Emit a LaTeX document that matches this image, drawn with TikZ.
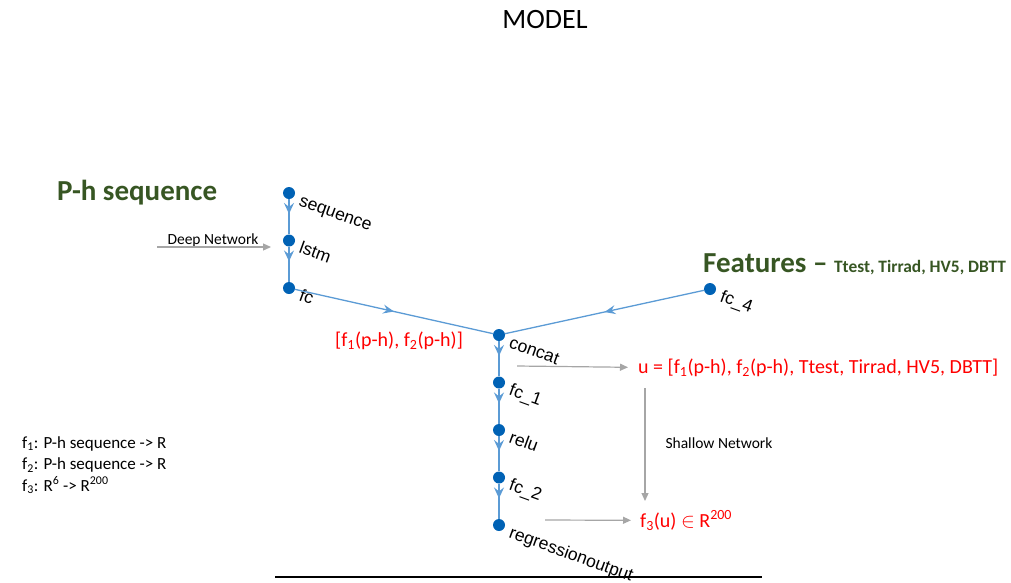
\documentclass[tikz,border=0pt]{standalone}
\usepackage{fontspec}
\setmainfont{Carlito}
\newfontfamily\arialfont{Liberation Sans}
\usetikzlibrary{arrows.meta,decorations.markings,calc}
\definecolor{dotblue}{RGB}{0,98,181}
\definecolor{edgeblue}{RGB}{91,155,213}
\definecolor{darkgreen}{RGB}{55,86,35}
\definecolor{arrowgray}{RGB}{166,166,166}

\begin{document}
\begin{tikzpicture}[x=1pt, y=-1pt, node distance={47.5pt},
    layer/.style = {circle, fill=dotblue, inner sep=0pt, minimum size=12pt},
    lbl/.style = {font=\arialfont\fontsize{17.5}{20}\selectfont, rotate=-20, anchor=base west, inner sep=0pt},
    flow/.style = {draw=edgeblue, line width=2.2pt, postaction={decorate},
        decoration={markings, mark=at position #1 with {\arrow[edgeblue]{Stealth[length=11pt,width=10pt,inset=4pt]}}}},
    flowthin/.style = {draw=edgeblue, line width=1.3pt, postaction={decorate},
        decoration={markings, mark=at position #1 with {\arrow[edgeblue]{Stealth[length=11pt,width=9pt,inset=4pt]}}}},
    grayarrow/.style = {draw=arrowgray, line width=1.2pt, -{Triangle[length=8pt,width=7pt]}},
    redtxt/.style = {text=red, font=\fontsize{20}{24}\selectfont, inner sep=0pt, anchor=base west},
    note/.style = {font=\fontsize{15.5}{18}\selectfont, inner sep=0pt},
    defn/.style = {font=\fontsize{17}{20}\selectfont, inner sep=0pt, anchor=base west},
    heading/.style = {text=darkgreen, font=\bfseries\fontsize{29}{34}\selectfont, inner sep=0pt, anchor=base west}]
    \useasboundingbox (0,0) rectangle (1011,582);

    % title
    \node[font=\fontsize{28}{32}\selectfont, inner sep=0pt, anchor=base] (title) at (545,28) {MODEL};

    % deep branch
    \node[layer] (seq) at (289,193) {};
    \node[layer] (lstm) [below of=seq] {};
    \node[layer] (fc) [below of=lstm] {};
    % shallow branch
    \node[layer] (concat) at (499,335) {};
    \node[layer] (fcone) [below of=concat] {};
    \node[layer] (relu) [below of=fcone] {};
    \node[layer] (fctwo) [below of=relu] {};
    \node[layer] (regout) [below of=fctwo] {};
    \node[layer] (fcfour) at (710,289) {};

    \node[lbl] (seqtxt) at ($(seq)+(9pt,-12pt)$) {sequence};
    \node[lbl] (lstmtxt) at ($(lstm)+(9pt,-12pt)$) {lstm};
    \node[lbl] (fctxt) at ($(fc)+(9pt,-12pt)$) {fc};
    \node[lbl] (concattxt) at ($(concat)+(9pt,-12pt)$) {concat};
    \node[lbl] (fconetxt) at ($(fcone)+(9pt,-12pt)$) {fc\_1};
    \node[lbl] (relutxt) at ($(relu)+(9pt,-12pt)$) {relu};
    \node[lbl] (fctwotxt) at ($(fctwo)+(9pt,-12pt)$) {fc\_2};
    \node[lbl] (regouttxt) at ($(regout)+(9pt,-12pt)$) {regressionoutput};
    \node[lbl] (fcfourtxt) at ($(fcfour)+(9pt,-12pt)$) {fc\_4};

    \draw[flow=0.42] (seq) to (lstm);
    \draw[flow=0.42] (lstm) to (fc);
    \draw[flowthin=0.5] (fc) to (concat);
    \draw[flowthin=0.5] (fcfour) to (concat);
    \draw[flow=0.42] (concat) to (fcone);
    \draw[flow=0.42] (fcone) to (relu);
    \draw[flow=0.42] (relu) to (fctwo);
    \draw[flow=0.42] (fctwo) to (regout);

    % headings
    \node[heading] (phseq) at (57,200) {P-h sequence};
    \node[heading] (feat) at (703,272) {Features – {\fontsize{17.4}{20}\selectfont Ttest, Tirrad, HV5, DBTT}};

    % deep network input
    \node[note] (deepnet) at (213,240) {Deep Network};
    \coordinate (deepin) at (157,247);
    \coordinate (deepout) at (271,247);
    \draw[grayarrow] (deepin) -- (deepout);

    % red outputs
    \node[redtxt] (fvec) at (335,346) {[f\textsubscript{1}(p-h), f\textsubscript{2}(p-h)]};
    \node[redtxt] (uvec) at (638,373) {u = [f\textsubscript{1}(p-h), f\textsubscript{2}(p-h), Ttest, Tirrad, HV5, DBTT]};
    \node[redtxt] (fthree) at (640,527) {f\textsubscript{3}(u) $\in$ R\textsuperscript{200}};

    \coordinate (concatout) at (517,366);
    \draw[grayarrow] (concatout) -- ([xshift=-10pt]uvec.west);
    \coordinate (shallowin) at (645,388);
    \coordinate (shallowout) at (645,501);
    \draw[grayarrow] (shallowin) -- (shallowout);
    \node[note] (shallownet) at (719,443) {Shallow Network};
    \coordinate (regoutout) at (545,520);
    \draw[grayarrow] (regoutout) -- ([xshift=-9pt]fthree.west);

    % definitions
    \node[defn] (defone) at (22,448) {f\textsubscript{1}: P-h sequence -> R};
    \node[defn] (deftwo) at (22,469.5) {f\textsubscript{2}: P-h sequence -> R};
    \node[defn] (defthree) at (22,491) {f\textsubscript{3}: R\textsuperscript{6} -> R\textsuperscript{200}};

    % bottom rule
    \draw[line width=1.3pt] (275,577) -- (762,577);
\end{tikzpicture}
\end{document}
